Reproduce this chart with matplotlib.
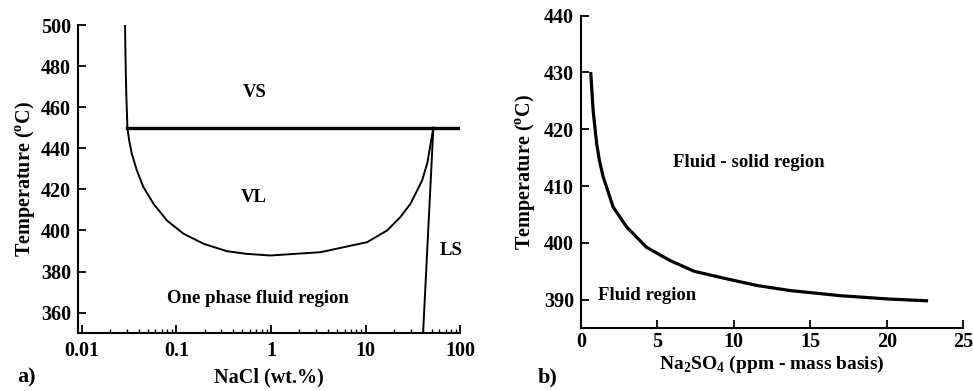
import matplotlib
matplotlib.use('Agg')
import matplotlib.pyplot as plt
from matplotlib.ticker import LogLocator, NullFormatter, FixedLocator

plt.rcParams['font.family'] = ['Liberation Serif', 'DejaVu Serif']
plt.rcParams['font.weight'] = 'bold'
plt.rcParams['axes.labelweight'] = 'bold'

# panel a: NaCl-water phase boundaries (wt.% vs degC)
vs_x = [0.0287, 0.0289, 0.0292, 0.0296, 0.0300, 0.0304]
vs_t = [500, 490, 478, 466, 458, 450]
vl_x = [0.0304, 0.0317, 0.0338, 0.0382, 0.0449, 0.0573, 0.0793, 0.119, 0.194,
        0.342, 0.55, 0.986, 3.34, 10.4, 16.9, 23.3, 29.8, 35.1, 39.6, 45, 52]
vl_t = [450, 443.9, 437.4, 429.3, 421.1, 413.0, 404.9, 398.4, 393.5, 389.9,
        388.6, 387.8, 389.4, 394.3, 400, 406.5, 413, 419.5, 424.4, 433, 450]
three_phase_x = [0.0304, 100]
three_phase_t = [450, 450]
ls_x = [52, 40.5]
ls_t = [450, 350]

# panel b: Na2SO4 solubility curve (ppm vs degC)
na2so4_x = [0.65, 0.80, 1.03, 1.21, 1.46, 2.11, 2.99, 4.30, 5.82, 7.4, 9.31,
            11.5, 13.68, 16.95, 20.2, 22.6]
na2so4_t = [429.8, 423.3, 417.5, 414.5, 411.6, 406.3, 402.8, 399.2, 396.9,
            395.0, 393.8, 392.5, 391.6, 390.7, 390.1, 389.8]

fig = plt.figure(figsize=(9.73, 3.91), dpi=100)
ax1 = fig.add_axes([0.080, 0.148, 0.393, 0.788])
ax2 = fig.add_axes([0.597, 0.161, 0.393, 0.799])

for ax in (ax1, ax2):
    ax.spines['top'].set_visible(False)
    ax.spines['right'].set_visible(False)
    for s in ('left', 'bottom'):
        ax.spines[s].set_linewidth(1.5)
    ax.tick_params(direction='in', width=1.3, length=6, labelsize=14.5, pad=5)
    ax.tick_params(which='minor', direction='in', width=1.0, length=3)

# left panel
ax1.set_xscale('log')
ax1.plot(vs_x, vs_t, color='k', lw=1.4)
ax1.plot(vl_x, vl_t, color='k', lw=1.4)
ax1.plot(three_phase_x, three_phase_t, color='k', lw=2.4)
ax1.plot(ls_x, ls_t, color='k', lw=1.4)
ax1.set_xlim(0.0091, 100)
ax1.set_ylim(350, 500)
ax1.yaxis.set_major_locator(FixedLocator([360, 380, 400, 420, 440, 460, 480, 500]))
ax1.xaxis.set_major_locator(FixedLocator([0.01, 0.1, 1, 10, 100]))
ax1.xaxis.set_major_formatter(plt.FuncFormatter(lambda v, p: f'{v:g}'))
ax1.xaxis.set_minor_locator(LogLocator(base=10, subs=range(2, 10)))
ax1.xaxis.set_minor_formatter(NullFormatter())
ax1.tick_params(axis='x', pad=6)
ax1.set_xlabel('NaCl (wt.%)', fontsize=14.5, labelpad=4)
ax1.set_ylabel('Temperature ($^{\\mathregular{o}}$C)', fontsize=14.5, labelpad=3)
ax1.text(0.68, 467, 'VS', ha='center', va='center', fontsize=13.5)
ax1.text(0.66, 416, 'VL', ha='center', va='center', fontsize=13.5)
ax1.text(81, 390, 'LS', ha='center', va='center', fontsize=13.5)
ax1.text(0.73, 367, 'One phase fluid region', ha='center', va='center', fontsize=13.5)
fig.text(0.018, 0.022, 'a)', fontsize=16, fontweight='bold')

# right panel
ax2.plot(na2so4_x, na2so4_t, color='k', lw=2.3)
ax2.set_xlim(0, 25)
ax2.set_ylim(385, 440)
ax2.set_xticks([0, 5, 10, 15, 20, 25])
ax2.set_yticks([390, 400, 410, 420, 430, 440])
ax2.tick_params(axis='x', pad=3)
ax2.set_xlabel('Na$_{\\mathregular{2}}$SO$_{\\mathregular{4}}$ (ppm - mass basis)',
               fontsize=14, labelpad=1)
ax2.set_ylabel('Temperature ($^{\\mathregular{o}}$C)', fontsize=14.5, labelpad=5)
ax2.text(11.0, 414.2, 'Fluid - solid region', ha='center', va='center', fontsize=13.5)
ax2.text(4.3, 390.7, 'Fluid region', ha='center', va='center', fontsize=13.5)
fig.text(0.553, 0.022, 'b)', fontsize=16, fontweight='bold')

fig.savefig('out.png', dpi=100)
